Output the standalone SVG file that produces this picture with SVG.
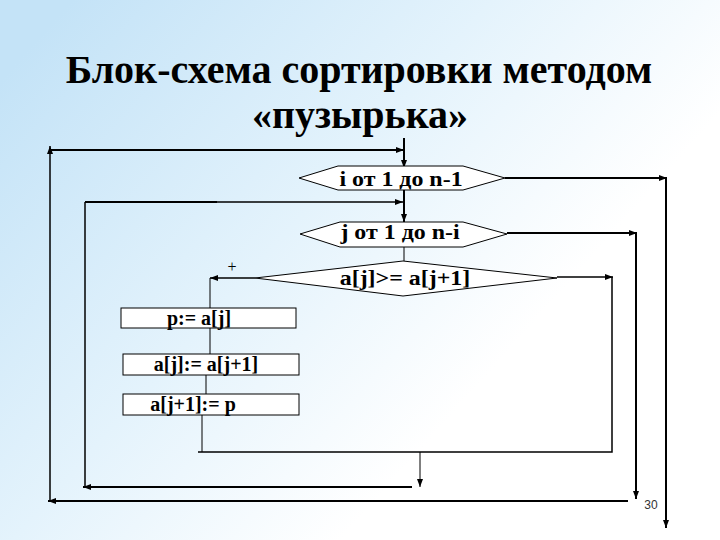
<svg xmlns="http://www.w3.org/2000/svg" width="720" height="540" viewBox="0 0 720 540">
<defs>
<linearGradient id="bg" x1="0" y1="0.15" x2="0.9" y2="0.75">
<stop offset="0" stop-color="#c4e3f7"/>
<stop offset="0.45" stop-color="#e4f3fc"/>
<stop offset="0.8" stop-color="#ffffff"/>
</linearGradient>
<marker id="ar" viewBox="0 0 8 6" refX="8" refY="3" markerWidth="8" markerHeight="6" markerUnits="userSpaceOnUse" orient="auto">
<path d="M0,0 L8,3 L0,6 z" fill="#000"/>
</marker>
</defs>
<style>
.t{font-weight:bold;fill:#000}
.ttl{font-weight:bold;font-size:40px;fill:#000}
.shape{fill:#fff;stroke:#000;stroke-width:1}
.c{fill:none;stroke:#000}
.k{stroke-width:2}
.m{stroke-width:1.5}
.n{stroke-width:1}
</style>
<rect x="0" y="0" width="720" height="540" fill="url(#bg)"/>
<g id="title">
<text class="ttl" x="359" y="83" text-anchor="middle" font-family="Liberation Serif, serif">Блок-схема сортировки методом</text>
<text class="ttl" x="360" y="128" text-anchor="middle" font-family="Liberation Serif, serif">«пузырька»</text>
</g>
<g id="connectors">
<path class="c k" d="M404,138 L404,168" marker-end="url(#ar)"/>
<path class="c k" d="M50,150 L404,150" marker-end="url(#ar)"/>
<path class="c m" d="M50,501 L50,146" marker-end="url(#ar)"/>
<path class="c k" d="M628,501 L48,501" marker-end="url(#ar)"/>
<path class="c k" d="M636,233 L636,499" marker-end="url(#ar)"/>
<path class="c k" d="M507,233 L637,233" marker-end="url(#ar)"/>
<path class="c k" d="M505,178 L667,178" marker-end="url(#ar)"/>
<path class="c k" d="M666,178 L666,528" marker-end="url(#ar)"/>
<path class="c k" d="M404,190 L404,222" marker-end="url(#ar)"/>
<path class="c k" d="M85,202 L217,202"/>
<path class="c m" d="M217,202 L403,202" marker-end="url(#ar)"/>
<path class="c m" d="M85,487 L85,202"/>
<path class="c k" d="M412,487 L83,487" marker-end="url(#ar)"/>
<path class="c n" d="M420,452 L420,487" marker-end="url(#ar)"/>
<path class="c m" d="M557,277 L613,277" marker-end="url(#ar)"/>
<path class="c m" d="M612,277 L612,452 L198,452"/>
<path class="c n" d="M202,415 L202,452"/>
<path class="c n" d="M404,247 L404,261"/>
<path class="c m" d="M255,278 L210,278" marker-end="url(#ar)"/>
<path class="c n" d="M210,278 L210,308"/>
<path class="c n" d="M210,328 L210,354"/>
<path class="c n" d="M206,375 L206,394"/>
</g>
<g id="loop-i">
<polygon class="shape" points="299,178 338,166 463,166 505,178 463,190 338,190"/>
<text class="t" transform="translate(401,186) scale(1.14,1)" text-anchor="middle" font-size="21" font-family="Liberation Serif, serif">i от 1 до n-1</text>
</g>
<g id="loop-j">
<polygon class="shape" points="300,234 340,222 463,222 507,234 463,247 340,247"/>
<text class="t" transform="translate(400,239) scale(1.14,1)" text-anchor="middle" font-size="21" font-family="Liberation Serif, serif">j от 1 до n-i</text>
</g>
<g id="cond">
<polygon class="shape" points="255,278 403,261 557,278 403,296"/>
<text class="t" transform="translate(405,285) scale(1.14,1)" text-anchor="middle" font-size="21" font-family="Liberation Serif, serif">a[j]&gt;= a[j+1]</text>
<text x="232" y="272" text-anchor="middle" font-size="16" font-family="Liberation Serif, serif">+</text>
</g>
<g id="box1">
<rect class="shape" x="121" y="308" width="175" height="20"/>
<text class="t" x="199" y="325" text-anchor="middle" font-size="20" font-family="Liberation Serif, serif">p:= a[j]</text>
</g>
<g id="box2">
<rect class="shape" x="123" y="354" width="176" height="21"/>
<text class="t" x="206" y="371" text-anchor="middle" font-size="20" font-family="Liberation Serif, serif">a[j]:= a[j+1]</text>
</g>
<g id="box3">
<rect class="shape" x="123" y="394" width="176" height="21"/>
<text class="t" x="193" y="411" text-anchor="middle" font-size="20" font-family="Liberation Serif, serif">a[j+1]:= p</text>
</g>
<g id="page">
<text x="651" y="509" text-anchor="middle" font-size="12" fill="#333" font-family="Liberation Sans, sans-serif">30</text>
</g>
</svg>
